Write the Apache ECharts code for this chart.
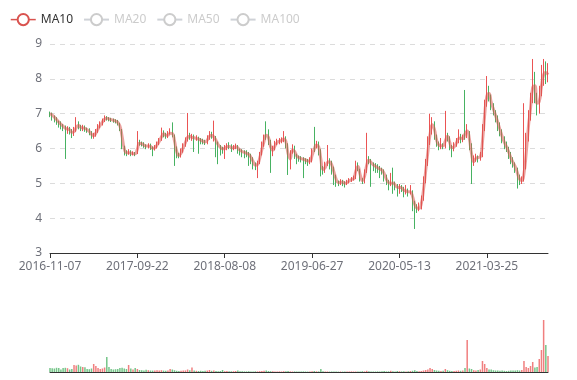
<!DOCTYPE html>
<html>
<head>
<meta charset="utf-8">
<script src="https://cdn.jsdelivr.net/npm/echarts@6/dist/echarts.min.js"></script>
<style>html,body{margin:0;padding:0;background:#fff}#main{width:577px;height:380px}</style>
</head>
<body>
<div id="main"></div>
<script>
const dates = [
'2016-11-07','2016-11-15','2016-11-23','2016-12-01','2016-12-09','2016-12-16','2016-12-26','2017-01-03','2017-01-10','2017-01-18',
'2017-01-26','2017-02-03','2017-02-10','2017-02-20','2017-02-27','2017-03-07','2017-03-15','2017-03-23','2017-03-31','2017-04-07',
'2017-04-17','2017-04-24','2017-05-02','2017-05-10','2017-05-18','2017-05-26','2017-06-02','2017-06-12','2017-06-19','2017-06-27',
'2017-07-05','2017-07-13','2017-07-21','2017-07-28','2017-08-07','2017-08-14','2017-08-22','2017-08-30','2017-09-07','2017-09-15',
'2017-09-22','2017-09-29','2017-10-09','2017-10-16','2017-10-24','2017-11-01','2017-11-09','2017-11-17','2017-11-24','2017-12-04',
'2017-12-11','2017-12-19','2017-12-27','2018-01-04','2018-01-12','2018-01-19','2018-01-29','2018-02-05','2018-02-13','2018-02-22',
'2018-03-01','2018-03-09','2018-03-16','2018-03-26','2018-04-02','2018-04-10','2018-04-18','2018-04-26','2018-05-04','2018-05-11',
'2018-05-21','2018-05-28','2018-06-05','2018-06-13','2018-06-21','2018-06-29','2018-07-06','2018-07-16','2018-07-23','2018-07-31',
'2018-08-08','2018-08-16','2018-08-24','2018-09-03','2018-09-11','2018-09-19','2018-09-27','2018-10-08','2018-10-16','2018-10-24',
'2018-11-01','2018-11-09','2018-11-16','2018-11-26','2018-12-04','2018-12-12','2018-12-20','2018-12-28','2019-01-07','2019-01-15',
'2019-01-23','2019-01-31','2019-02-12','2019-02-20','2019-02-28','2019-03-08','2019-03-15','2019-03-25','2019-04-02','2019-04-10',
'2019-04-18','2019-04-26','2019-05-06','2019-05-14','2019-05-22','2019-05-30','2019-06-06','2019-06-13','2019-06-19','2019-06-24',
'2019-06-27','2019-07-05','2019-07-15','2019-07-23','2019-07-31','2019-08-08','2019-08-16','2019-08-26','2019-09-03','2019-09-11',
'2019-09-19','2019-09-27','2019-10-11','2019-10-21','2019-10-29','2019-11-06','2019-11-14','2019-11-22','2019-12-02','2019-12-10',
'2019-12-18','2019-12-26','2020-01-03','2020-01-13','2020-01-21','2020-02-05','2020-02-12','2020-02-19','2020-02-26','2020-03-04',
'2020-03-11','2020-03-18','2020-03-25','2020-04-01','2020-04-08','2020-04-15','2020-04-22','2020-04-29','2020-05-06','2020-05-11',
'2020-05-13','2020-05-21','2020-05-29','2020-06-08','2020-06-16','2020-06-24','2020-07-02','2020-07-10','2020-07-20','2020-07-28',
'2020-08-05','2020-08-13','2020-08-21','2020-08-31','2020-09-08','2020-09-16','2020-09-24','2020-10-09','2020-10-19','2020-10-27',
'2020-11-04','2020-11-12','2020-11-20','2020-11-30','2020-12-08','2020-12-16','2020-12-24','2021-01-04','2021-01-11','2021-01-18',
'2021-01-25','2021-02-01','2021-02-08','2021-02-19','2021-02-25','2021-03-03','2021-03-08','2021-03-12','2021-03-17','2021-03-22',
'2021-03-25','2021-04-02','2021-04-12','2021-04-20','2021-04-28','2021-05-07','2021-05-17','2021-05-25','2021-06-02','2021-06-10',
'2021-06-18','2021-06-28','2021-07-06','2021-07-14','2021-07-22','2021-07-30','2021-08-09','2021-08-17','2021-08-25','2021-09-02',
'2021-09-10','2021-09-22','2021-09-30','2021-10-12','2021-10-20','2021-10-28','2021-11-05','2021-11-15','2021-11-23'
];
const opens = [
7.02,6.99,6.90,6.86,6.76,6.73,6.64,6.61,6.50,6.59,
6.50,6.40,6.54,6.71,6.63,6.56,6.61,6.54,6.53,6.46,
6.34,6.39,6.49,6.63,6.71,6.81,6.89,6.87,6.85,6.83,
6.80,6.79,6.71,6.54,6.04,5.89,5.86,5.91,5.83,5.87,
5.86,6.22,6.16,6.13,6.09,6.04,6.11,6.03,5.97,6.04,
6.14,6.26,6.46,6.41,6.34,6.43,6.49,6.37,6.01,5.82,
5.79,5.94,6.11,6.24,6.41,6.29,6.36,6.27,6.31,6.24,
6.23,6.21,6.17,6.31,6.43,6.28,6.33,6.14,6.06,6.01,
5.97,6.01,6.09,6.06,5.99,6.03,6.07,5.99,5.93,5.91,
5.89,5.86,5.81,5.71,5.56,5.47,5.59,5.84,6.09,6.50,
6.46,6.21,5.84,6.01,6.14,6.21,6.21,6.24,6.31,6.12,
5.46,5.91,6.04,5.79,5.76,5.71,5.71,5.67,5.66,5.61,
5.67,6.12,6.04,6.16,5.94,5.41,5.36,5.56,5.66,5.61,
5.44,5.21,5.03,4.99,5.06,5.03,4.97,5.04,5.11,5.13,
5.16,5.56,5.39,5.11,5.06,5.34,5.71,5.66,5.56,5.51,
5.49,5.43,5.41,5.36,5.21,5.06,4.97,5.03,5.01,4.93,
4.84,4.91,4.86,4.74,4.81,4.71,4.77,4.46,4.31,4.24,
4.31,4.56,5.08,5.58,6.18,6.58,6.74,6.36,6.16,6.04,
6.11,6.06,6.41,6.29,6.06,5.99,6.11,6.21,6.36,6.24,
6.70,6.38,6.44,6.08,5.56,5.71,5.76,5.71,5.82,6.58,
7.28,7.72,7.44,7.22,7.03,6.86,6.66,6.46,6.24,6.11,
6.01,5.81,5.66,5.56,5.41,5.21,5.04,5.12,5.50,6.32,
6.92,7.42,8.08,7.48,7.12,7.62,7.98,8.32,8.04
];
const closes = [
6.98,6.92,6.85,6.78,6.72,6.65,6.60,6.52,6.58,6.50,
6.42,6.55,6.70,6.62,6.58,6.60,6.55,6.52,6.45,6.35,
6.38,6.50,6.62,6.72,6.80,6.88,6.86,6.84,6.82,6.80,
6.78,6.72,6.55,6.05,5.88,5.85,5.92,5.82,5.86,5.84,
6.20,6.15,6.12,6.08,6.05,6.10,6.02,5.98,6.05,6.15,
6.25,6.45,6.40,6.35,6.42,6.48,6.38,6.02,5.80,5.78,
5.95,6.10,6.25,6.40,6.30,6.35,6.28,6.30,6.25,6.22,
6.20,6.18,6.30,6.42,6.35,6.34,6.15,6.05,6.00,5.98,
6.02,6.08,6.05,6.00,6.04,6.06,5.98,5.92,5.90,5.88,
5.85,5.80,5.70,5.55,5.48,5.60,5.85,6.10,6.30,6.45,
6.20,5.85,6.00,6.15,6.20,6.22,6.25,6.30,6.10,5.45,
5.90,6.05,5.80,5.75,5.72,5.70,5.68,5.65,5.62,5.66,
5.95,6.05,6.15,5.95,5.40,5.35,5.55,5.65,5.60,5.45,
5.20,5.02,5.00,5.05,5.02,4.98,5.05,5.10,5.12,5.15,
5.55,5.40,5.10,5.05,5.35,5.70,5.65,5.55,5.50,5.48,
5.42,5.40,5.35,5.20,5.05,4.98,5.02,5.00,4.92,4.85,
4.90,4.85,4.75,4.80,4.72,4.78,4.45,4.30,4.25,4.30,
4.55,5.10,5.60,6.20,6.60,6.75,6.35,6.15,6.05,6.10,
6.05,6.40,6.30,6.05,6.00,6.10,6.20,6.35,6.25,6.30,
6.55,6.45,6.10,5.55,5.70,5.75,5.72,5.80,6.60,7.30,
7.70,7.45,7.20,7.05,6.85,6.65,6.45,6.25,6.10,6.00,
5.80,5.65,5.55,5.40,5.20,5.05,5.10,5.45,6.30,6.90,
7.40,8.10,7.50,7.10,7.60,7.95,8.30,8.05,8.20
];
const lows = [
6.90,6.80,6.75,6.68,6.60,6.55,6.50,5.70,6.42,6.40,
6.30,6.36,6.48,6.55,6.50,6.50,6.48,6.45,6.38,6.28,
6.28,6.34,6.45,6.58,6.66,6.76,6.80,6.78,6.76,6.74,
6.72,6.66,6.50,5.98,5.80,5.78,5.82,5.78,5.80,5.78,
5.84,6.08,6.06,6.02,5.98,6.00,5.96,5.78,5.94,6.00,
6.10,6.22,6.32,6.28,6.30,6.40,6.32,5.50,5.72,5.72,
5.74,5.88,6.05,6.20,6.25,6.22,5.90,6.22,5.85,6.12,
6.12,6.10,6.12,6.25,6.28,6.20,5.75,5.55,5.80,5.85,
5.70,5.95,5.98,5.90,5.95,5.98,5.85,5.80,5.75,5.72,
5.75,5.50,5.55,5.40,5.38,5.15,5.55,5.80,6.05,6.25,
6.10,5.30,5.78,5.95,6.10,6.12,6.15,6.18,6.00,5.24,
5.40,5.85,5.70,5.55,5.62,5.60,5.15,5.55,5.50,5.55,
5.60,5.90,6.00,5.80,5.20,5.25,5.30,5.50,5.40,5.25,
4.95,4.90,4.92,4.95,4.92,4.88,4.95,5.00,5.04,5.08,
5.12,5.35,5.05,4.98,5.00,5.30,5.55,4.90,5.35,5.30,
5.30,5.15,5.25,5.05,4.95,4.80,4.92,4.70,4.80,4.62,
4.70,4.75,4.60,4.68,4.62,4.68,4.20,3.69,4.15,4.20,
4.25,4.50,5.00,5.50,6.10,6.40,6.25,6.05,5.95,5.98,
5.98,6.00,6.20,5.95,5.75,5.92,6.05,6.15,6.15,6.18,
6.25,6.30,5.95,4.98,5.50,5.62,5.60,5.65,5.75,6.50,
7.20,7.35,7.10,6.95,6.75,6.50,6.35,6.15,5.98,5.90,
5.70,5.55,5.45,5.30,4.85,4.95,4.98,5.05,5.40,6.20,
6.80,7.30,7.30,6.95,7.00,7.50,7.80,7.85,7.90
];
const highs = [
7.06,7.03,6.95,6.90,6.80,6.78,6.70,6.66,6.64,6.62,
6.56,6.62,6.90,6.78,6.68,6.68,6.66,6.60,6.58,6.50,
6.45,6.56,6.70,6.78,6.86,6.95,6.93,6.90,6.88,6.86,
6.84,6.82,6.74,6.56,6.08,5.95,5.98,5.95,5.92,5.90,
6.50,6.25,6.20,6.18,6.12,6.15,6.14,6.06,6.10,6.20,
6.30,6.60,6.52,6.45,6.50,6.58,6.75,6.40,6.06,5.88,
6.00,6.15,6.32,7.02,6.45,6.42,6.40,6.38,6.34,6.30,
6.28,6.25,6.38,6.50,6.48,6.80,6.36,6.20,6.10,6.05,
6.10,6.15,6.18,6.12,6.10,6.14,6.10,6.00,5.98,5.95,
5.95,5.90,5.85,5.75,5.60,5.65,5.90,6.20,6.40,6.78,
6.55,6.25,6.08,6.22,6.28,6.30,6.32,6.50,6.35,6.15,
5.95,6.12,6.08,5.85,5.80,5.78,5.75,5.72,5.70,5.75,
6.00,6.62,6.22,6.20,5.98,5.50,5.62,6.10,5.72,5.65,
5.48,5.25,5.08,5.12,5.10,5.06,5.10,5.15,5.18,5.22,
5.65,5.60,5.42,5.15,5.40,6.45,5.78,5.70,5.60,5.58,
5.55,5.50,5.45,5.40,5.25,5.10,5.30,5.45,5.05,4.98,
4.98,4.95,4.90,4.95,4.85,4.95,4.80,4.50,4.40,4.45,
4.65,5.20,5.70,6.35,7.00,6.90,6.78,6.40,6.20,6.30,
6.15,7.08,6.45,6.35,6.10,6.18,6.30,6.55,6.42,6.40,
7.68,6.70,6.50,6.15,5.80,5.85,5.80,5.90,6.70,7.40,
8.08,7.80,7.55,7.30,7.10,6.95,6.75,6.55,6.35,6.20,
6.05,5.90,5.75,5.60,5.45,5.25,5.20,7.30,6.45,7.10,
7.60,8.57,8.20,7.60,7.80,8.40,8.57,8.50,8.45
];
const volumes = [
40,38,35,42,40,25,40,42,38,25,
30,70,65,72,55,50,48,30,28,35,
80,60,40,30,35,45,150,50,30,25,
28,30,40,42,35,30,70,35,25,40,
30,20,18,15,22,18,15,14,16,18,
15,18,14,12,16,30,25,18,12,10,
12,14,16,25,18,45,15,12,10,12,
10,12,14,20,12,15,10,8,10,20,
8,10,8,7,8,10,15,8,7,6,
6,8,6,5,7,6,8,10,12,15,
10,8,7,6,5,6,5,8,7,9,
6,5,6,5,4,5,6,5,4,5,
8,10,7,6,30,8,6,5,4,5,
6,5,4,5,4,5,6,5,6,5,
5,4,6,8,6,12,8,6,5,5,
6,5,8,10,6,7,12,8,6,10,
8,6,7,5,8,10,12,18,10,8,
10,15,20,25,40,30,20,15,12,10,
12,30,18,12,10,10,12,15,12,14,
40,320,35,30,18,15,20,25,110,80,
40,25,25,18,15,14,12,15,12,10,
12,14,15,16,18,15,20,110,50,40,
60,100,45,50,130,220,520,270,160
];
const ma10 = [
7.00,6.96,6.90,6.83,6.76,6.70,6.64,6.58,6.56,6.54,
6.47,6.48,6.60,6.66,6.61,6.59,6.58,6.54,6.49,6.41,
6.37,6.44,6.56,6.67,6.76,6.84,6.87,6.85,6.83,6.81,
6.79,6.75,6.65,6.35,6.00,5.88,5.88,5.87,5.85,5.85,
5.98,6.15,6.14,6.10,6.07,6.07,6.06,6.01,6.02,6.10,
6.20,6.33,6.42,6.38,6.38,6.44,6.43,6.22,5.92,5.80,
5.86,6.02,6.17,6.32,6.35,6.32,6.31,6.29,6.27,6.24,
6.21,6.19,6.24,6.35,6.38,6.33,6.24,6.11,6.03,5.99,
6.00,6.05,6.06,6.03,6.02,6.05,6.02,5.95,5.91,5.89,
5.86,5.83,5.75,5.63,5.52,5.54,5.72,5.97,6.20,6.38,
6.32,6.05,5.95,6.07,6.17,6.21,6.23,6.27,6.20,5.85,
5.70,5.95,5.92,5.78,5.74,5.71,5.69,5.67,5.64,5.64,
5.80,5.98,6.10,6.05,5.70,5.40,5.45,5.60,5.62,5.53,
5.33,5.12,5.02,5.03,5.04,5.00,5.02,5.07,5.11,5.13,
5.35,5.48,5.25,5.08,5.20,5.52,5.66,5.60,5.53,5.49,
5.45,5.41,5.38,5.28,5.12,5.02,5.00,5.01,4.96,4.89,
4.88,4.87,4.80,4.78,4.76,4.75,4.62,4.40,4.29,4.28,
4.42,4.82,5.35,5.90,6.40,6.68,6.55,6.25,6.10,6.08,
6.08,6.22,6.35,6.18,6.03,6.05,6.15,6.28,6.30,6.28,
6.42,6.50,6.28,5.85,5.62,5.72,5.74,5.76,6.20,6.95,
7.50,7.58,7.33,7.13,6.95,6.75,6.55,6.35,6.18,6.05,
5.90,5.73,5.60,5.48,5.30,5.12,5.08,5.28,5.85,6.60,
7.15,7.75,7.80,7.30,7.35,7.78,8.12,8.18,8.12
];
const legendNames = ['MA10', 'MA20', 'MA50', 'MA100'];

const upColor = '#eb5454';
const downColor = '#47b262';
const candleData = dates.map((d, i) => [opens[i], closes[i], lows[i], highs[i]]);
const volData = volumes.map((v, i) => ({
  value: v,
  itemStyle: { color: closes[i] >= opens[i] ? upColor : downColor, opacity: 0.75 }
}));

const chart = echarts.init(document.getElementById('main'));
chart.setOption({
  animation: false,
  textStyle: { fontFamily: 'Noto Sans' },
  legend: {
    data: legendNames,
    left: 5,
    top: 8,
    itemGap: 10,
    textStyle: { fontSize: 12, color: '#333' },
    inactiveColor: '#ccc',
    lineStyle: { width: 1.5, opacity: 1 },
    itemStyle: { borderWidth: 1.5 },
    selected: { MA10: true, MA20: false, MA50: false, MA100: false }
  },
  grid: [
    { left: 50, right: 29, top: 44, height: 209 },
    { left: 50, right: 29, top: 320, height: 52 }
  ],
  xAxis: [
    {
      type: 'category', data: dates, boundaryGap: false,
      axisLine: { lineStyle: { color: '#333' } },
      axisTick: { interval: 39 },
      axisLabel: { interval: 39, color: '#6E7079', fontSize: 12 },
      splitLine: { show: false }
    },
    {
      type: 'category', gridIndex: 1, data: dates, boundaryGap: false,
      axisLine: { lineStyle: { color: '#333' } },
      axisTick: { show: false },
      axisLabel: { show: false },
      splitLine: { show: false }
    }
  ],
  yAxis: [
    {
      type: 'value', min: 3, max: 9, interval: 1,
      axisLine: { show: false }, axisTick: { show: false },
      axisLabel: { color: '#6E7079', fontSize: 12 },
      splitLine: { lineStyle: { type: [5, 5], color: '#dcdcdc' } }
    },
    {
      type: 'value', gridIndex: 1, show: false, min: 0, max: 'dataMax',
      splitLine: { show: false }
    }
  ],
  series: [
    {
      name: 'K', type: 'candlestick', data: candleData,
      itemStyle: { color: upColor, color0: downColor, borderColor: upColor, borderColor0: downColor }
    },
    {
      name: 'MA10', type: 'line', data: ma10, smooth: true, showSymbol: false,
      color: '#d9534f',
      lineStyle: { width: 3, opacity: 0.55 }
    },
    { name: 'MA20', type: 'line', data: [], smooth: true, showSymbol: false, color: '#91cc75', lineStyle: { opacity: 0.5 } },
    { name: 'MA50', type: 'line', data: [], smooth: true, showSymbol: false, color: '#fac858', lineStyle: { opacity: 0.5 } },
    { name: 'MA100', type: 'line', data: [], smooth: true, showSymbol: false, color: '#ee6666', lineStyle: { opacity: 0.5 } },
    {
      name: 'Volume', type: 'bar', xAxisIndex: 1, yAxisIndex: 1, data: volData
    }
  ]
});
</script>
</body>
</html>
